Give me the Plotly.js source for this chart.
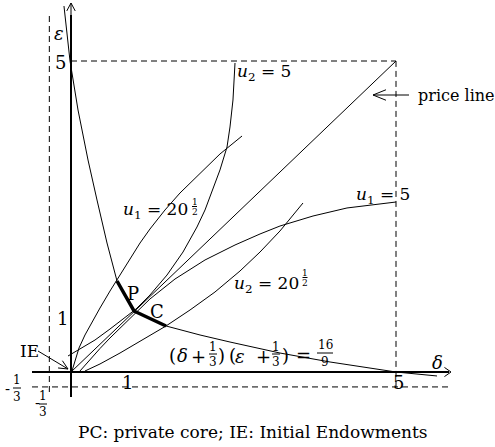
<!DOCTYPE html>
<html><head><meta charset="utf-8">
<script src="https://cdn.plot.ly/plotly-3.0.1.min.js"></script>
<style>html,body{margin:0;padding:0;background:#fff}#chart{width:495px;height:447px}</style>
</head><body><div id="chart"></div>
<script>
// ---------------- data (δ, ε units) ----------------
const boxMax = 5;
const offsetNeg = -1 / 3;
const offsetDrawnEps = -0.24;          // where the ε = -1/3 guide is drawn

const contractDelta = [-0.108, -0.015, 0.108, 0.262, 0.400, 0.554, 0.708, 0.969, 1.462, 1.985, 2.446, 3.215, 3.985, 5.000, 5.631];
const contractEps   = [5.884, 5.000, 4.212, 3.408, 2.765, 2.074, 1.463, 0.981, 0.740, 0.595, 0.482, 0.305, 0.161, 0.000, -0.064];

const coreDelta = [0.708, 0.969, 1.462];
const coreEps   = [1.463, 0.981, 0.740];

const priceDelta = [0, 5];
const priceEps   = [0, 5];

const u1LowDelta = [0.015, 0.062, 0.123, 0.215, 0.338, 0.446, 0.600, 0.754, 0.908, 1.062, 1.215, 1.446, 1.677, 1.985, 2.292, 2.631];
const u1LowEps   = [0.016, 0.193, 0.386, 0.595, 0.836, 1.029, 1.302, 1.559, 1.801, 2.074, 2.299, 2.605, 2.878, 3.199, 3.505, 3.794];

const u2HighDelta = [-0.046, 0.138, 0.369, 0.600, 0.785, 1.000, 1.215, 1.477, 1.723, 1.938, 2.062, 2.292, 2.400, 2.446, 2.492, 2.523];
const u2HighEps   = [0.257, 0.370, 0.514, 0.691, 0.836, 1.013, 1.238, 1.559, 1.929, 2.331, 2.605, 3.248, 3.617, 3.939, 4.373, 4.968];

const u1HighDelta = [0.138, 0.292, 0.446, 0.600, 0.754, 1.000, 1.215, 1.600, 2.062, 2.523, 2.908, 3.215, 3.723, 4.246, 5.000];
const u1HighEps   = [0.016, 0.201, 0.378, 0.547, 0.707, 0.965, 1.174, 1.495, 1.801, 2.042, 2.219, 2.347, 2.508, 2.637, 2.733];

const u2LowDelta = [0.215, 0.446, 0.754, 1.062, 1.462, 1.831, 2.215, 2.600, 2.908, 3.215, 3.569];
const u2LowEps   = [0.016, 0.129, 0.305, 0.490, 0.740, 0.997, 1.286, 1.624, 1.929, 2.267, 2.717];

// ---------------- layout helpers (pixel -> data) ----------------
const X = p => (p - 71) / 65;
const Y = p => (372 - p) / 62.2;
const FONT = 'DejaVu Serif';

function curve(xs, ys, w) {
  return {x: xs, y: ys, type: 'scatter', mode: 'lines', hoverinfo: 'skip',
          line: {color: '#000', width: w || 1}};
}
const traces = [
  curve(contractDelta, contractEps, 1),
  curve(priceDelta, priceEps, 1),
  curve(u1LowDelta, u1LowEps, 1),
  curve(u2HighDelta, u2HighEps, 1),
  curve(u1HighDelta, u1HighEps, 1),
  curve(u2LowDelta, u2LowEps, 1),
  curve(coreDelta, coreEps, 3.5)
];

const shapes = [];
const annotations = [];
function seg(x0, y0, x1, y1, w, dash) {
  shapes.push({type: 'line', xref: 'x', yref: 'y', x0, y0, x1, y1,
               line: {color: '#000', width: w, dash: dash || 'solid'}});
}
function pseg(a, b, c, d, w) { seg(X(a), Y(b), X(c), Y(d), w); }
function chevron(tx, ty, bx, by, len, angDeg) {
  const dx = bx - tx, dy = by - ty, L = Math.hypot(dx, dy);
  const ux = dx / L, uy = dy / L, a = angDeg * Math.PI / 180;
  const r = s => [tx + len * (ux * Math.cos(s) - uy * Math.sin(s)), ty + len * (ux * Math.sin(s) + uy * Math.cos(s))];
  const p1 = r(a), p2 = r(-a);
  shapes.push({type: 'path', xref: 'x', yref: 'y',
    path: `M${X(p1[0])},${Y(p1[1])} L${X(tx)},${Y(ty)} L${X(p2[0])},${Y(p2[1])}`,
    line: {color: '#000', width: 1}});
}
function T(px, py, text, size, xa) {
  annotations.push({x: X(px), y: Y(py), xref: 'x', yref: 'y', text, showarrow: false,
    font: {family: FONT, size, color: '#000'}, xanchor: xa || 'center', yanchor: 'middle'});
}
function frac(cx, bar, num, den, size, w, up, down) {
  T(cx, bar - (up || size * 0.55), num, size);
  T(cx, bar + (down || size * 0.6), den, size);
  pseg(cx - w / 2, bar, cx + w / 2, bar, 1);
}

// dashed guides
const DASH = '6px,4px';
seg(offsetNeg, Y(392), offsetNeg, Y(15), 1, DASH);
seg(X(32), offsetDrawnEps, X(448), offsetDrawnEps, 1, DASH);
seg(0, boxMax, boxMax, boxMax, 1, DASH);
seg(boxMax, offsetDrawnEps, boxMax, boxMax, 1, DASH);

// axes
seg(0, Y(397), 0, Y(15), 2);
seg(0, Y(15), 0, Y(3), 1);
chevron(71, 3, 71, 20, 9, 28);
seg(X(32), 0, X(449), 0, 2);
chevron(451, 372, 430, 372, 8, 35);

// arrows
pseg(38, 351, 68, 369, 1);
chevron(68, 369, 38, 351, 10, 25);
pseg(409, 95, 373, 95, 1);
chevron(373, 95, 409, 95, 14, 22);

// labels
T(59, 33, '<i>ε</i>', 18);
T(60, 62, '5', 18);
T(62, 318, '1', 18);
T(127, 382, '1', 18);
T(398, 382, '5', 18);
T(437, 362, '<i>δ</i>', 18);
T(29, 351, 'IE', 17);
T(133, 293, 'P', 18);
T(157, 311, 'C', 18);
T(456, 95, 'price line', 16);

T(264, 72, '<i>u</i><sub>2</sub> = 5', 17);
T(383, 195, '<i>u</i><sub>1</sub> = 5', 17);
T(190, 210, '<i>u</i><sub>1</sub> = 20', 17, 'right');
frac(194.5, 206.5, '1', '2', 9, 5, 5, 5);
T(301, 284, '<i>u</i><sub>2</sub> = 20', 17, 'right');
frac(305, 277.5, '1', '2', 9, 5, 5, 5);

// -1/3 labels
T(7, 389, '-', 15);
frac(17, 388, '1', '3', 12, 8, 8, 9);
T(37, 403, '-', 15);
frac(43, 404, '1', '3', 12, 8, 8, 8);

// (δ + 1/3)(ε + 1/3) = 16/9
T(172.5, 355, '(', 18);
T(182, 355, '<i>δ</i>', 18);
T(198, 356, '+', 18);
frac(213, 354, '1', '3', 12, 8, 7, 8);
T(221, 355, ')', 18);
T(232, 355, '(', 18);
T(240, 356, '<i>ε</i>', 18);
T(263, 356, '+', 18);
frac(276, 354, '1', '3', 12, 8, 7, 8);
T(285, 355, ')', 18);
T(303.5, 355, '=', 18);
frac(325, 353, '16', '9', 12, 16, 8, 9);

// caption
T(252, 432, 'PC: private core; IE: Initial Endowments', 17);

const layout = {
  width: 495, height: 447, autosize: false,
  font: {family: FONT},
  margin: {l: 0, r: 0, t: 0, b: 0, pad: 0},
  paper_bgcolor: '#fff', plot_bgcolor: '#fff', showlegend: false,
  xaxis: {range: [X(0), X(495)], visible: false, showgrid: false, zeroline: false, fixedrange: true},
  yaxis: {range: [Y(447), Y(0)], visible: false, showgrid: false, zeroline: false, fixedrange: true},
  shapes, annotations
};
Plotly.newPlot('chart', traces, layout, {displayModeBar: false, staticPlot: true});
</script>
</body></html>
